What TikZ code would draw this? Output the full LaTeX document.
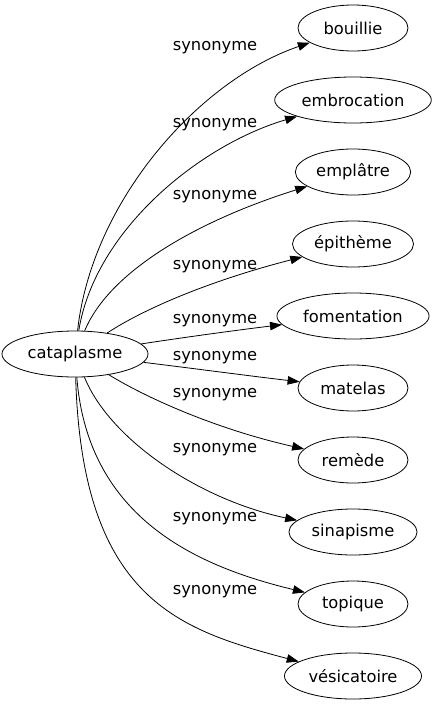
\documentclass[tikz,border=0pt]{standalone}
\usepackage{fontspec}
\setmainfont{DejaVu Sans}
\usetikzlibrary{arrows.meta,shapes.geometric}
\tikzset{word/.style={draw,ellipse,minimum width=110pt,minimum height=46pt,inner sep=4pt,line width=0.8pt},
  syn/.style={->,line width=0.8pt}}
\begin{document}
\begin{tikzpicture}[>={Triangle[length=12pt,width=8.5pt]},x=1pt,y=-1pt,font=\fontsize{16.3}{18}\selectfont]
\useasboundingbox (0,0) rectangle (437,707);
\node[word,minimum width=146pt](cataplasme) at (75,354){cataplasme};
\foreach \n/\t [count=\i from 0] in {bouillie/bouillie,embrocation/embrocation,emplatre/emplâtre,
  epitheme/épithème,fomentation/fomentation,matelas/matelas,remede/remède,sinapisme/sinapisme,
  topique/topique,vesicatoire/vésicatoire}
  \node[word](\n) at (353,28+72*\i){\t};

\foreach \y [count=\i] in {48,125,197,267,321,358,395,450,519,592}
  \node(l\i) at (215,\y){synonyme};

\draw[syn](cataplasme) .. controls (92,200) and (200,80) .. (bouillie);
\draw[syn](cataplasme) .. controls (95,230) and (200,145) .. (embrocation);
\draw[syn](cataplasme) .. controls (110,270) and (200,220) .. (emplatre);
\draw[syn](cataplasme) .. controls (150,305) and (220,278) .. (epitheme);
\draw[syn](cataplasme) .. controls (180,338) and (230,331) .. (fomentation);
\draw[syn](cataplasme) .. controls (190,368) and (250,376) .. (matelas);
\draw[syn](cataplasme) .. controls (150,400) and (220,430) .. (remede);
\draw[syn](cataplasme) .. controls (110,440) and (200,500) .. (sinapisme);
\draw[syn](cataplasme) .. controls (88,520) and (200,567) .. (topique);
\draw[syn](cataplasme) .. controls (82,600) and (180,630) .. (vesicatoire);
\end{tikzpicture}
\end{document}
